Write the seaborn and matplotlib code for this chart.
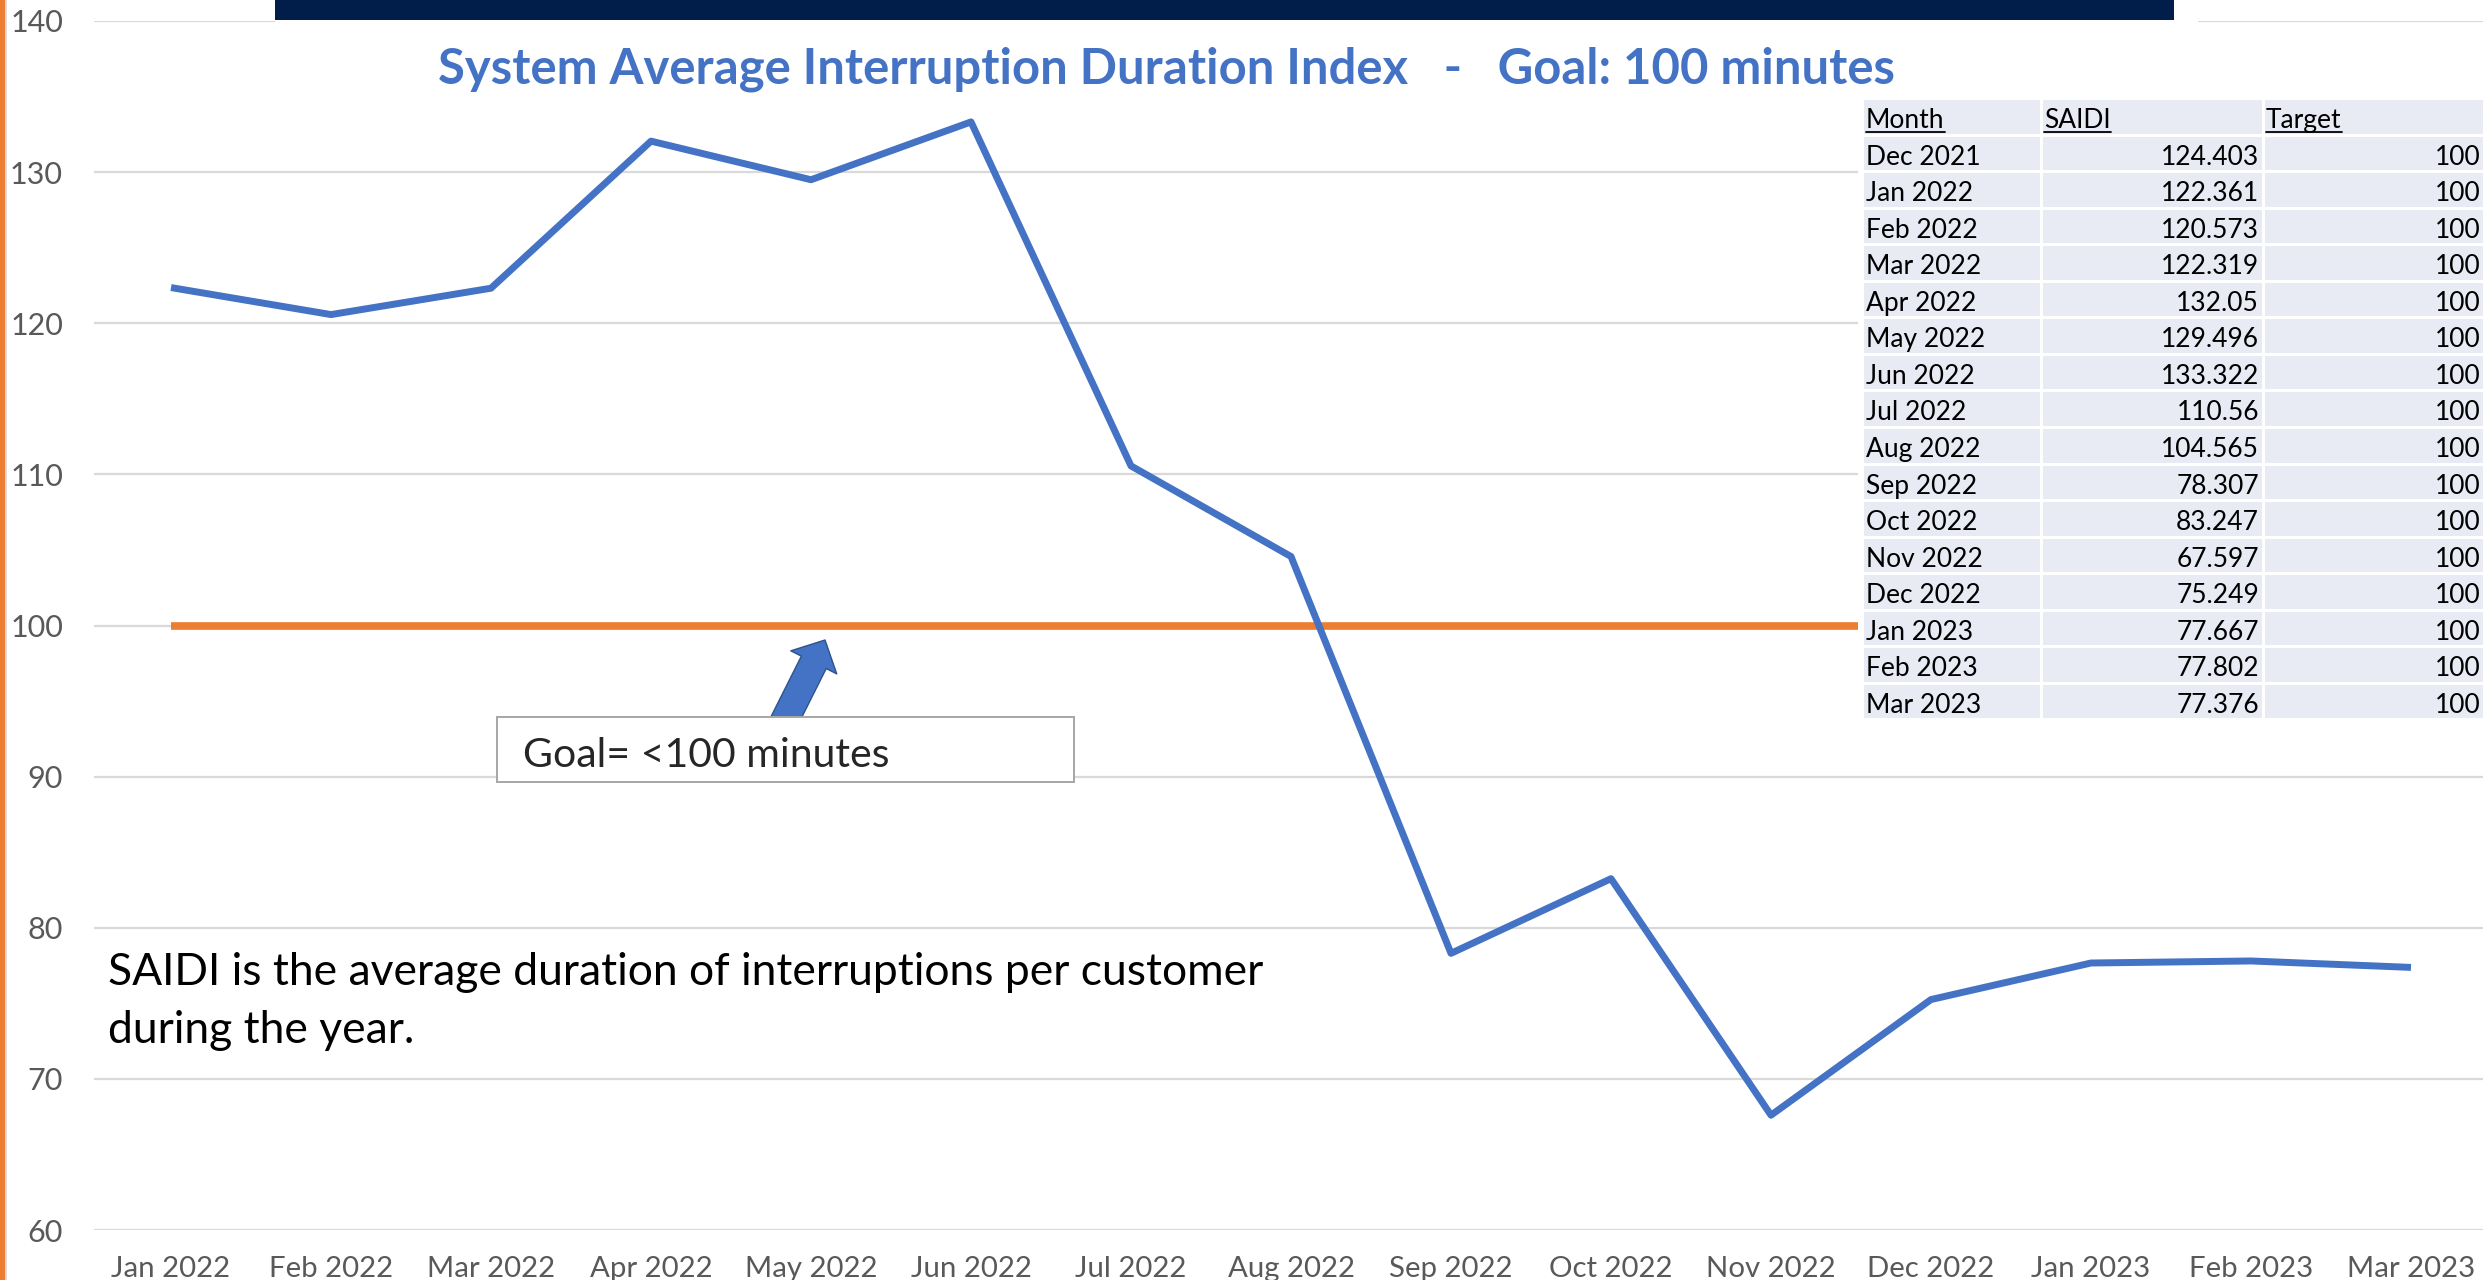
import matplotlib
matplotlib.use("Agg")
import numpy as np
import pandas as pd
import matplotlib.pyplot as plt
import matplotlib.patches as mpatches
from matplotlib.lines import Line2D
from matplotlib import font_manager
import seaborn as sns

# ---------------- data ----------------
table_months = ["Dec 2021", "Jan 2022", "Feb 2022", "Mar 2022", "Apr 2022", "May 2022",
                "Jun 2022", "Jul 2022", "Aug 2022", "Sep 2022", "Oct 2022", "Nov 2022",
                "Dec 2022", "Jan 2023", "Feb 2023", "Mar 2023"]
table_saidi = [124.403, 122.361, 120.573, 122.319, 132.05, 129.496, 133.322, 110.56,
               104.565, 78.307, 83.247, 67.597, 75.249, 77.667, 77.802, 77.376]
table_target = [100, 100, 100, 100, 100, 100, 100, 100, 100, 100, 100, 100, 100, 100, 100, 100]
table_headers = ["Month", "SAIDI", "Target"]

chart_months = table_months[1:]
chart_saidi = table_saidi[1:]
chart_target = table_target[1:]

y_ticks = [60, 70, 80, 90, 100, 110, 120, 130, 140]
title_text = "System Average Interruption Duration Index   -   Goal: 100 minutes"
goal_text = "Goal= <100 minutes"
note_lines = ["SAIDI is the average duration of interruptions per customer",
              "during the year."]

# ---------------- style ----------------
sns.set_theme(style="white")
avail = {f.name for f in font_manager.fontManager.ttflist}
FONT = "Lato" if "Lato" in avail else "DejaVu Sans"
plt.rcParams["font.family"] = [FONT, "DejaVu Sans"]

BLUE = "#4472C4"
ORANGE = "#ED7D31"
GRID = "#D9D9D9"
TICK = "#595959"
NAVY = "#011E4A"
CELL = "#E8EAF4"

W, H = 2483, 1280
fig = plt.figure(figsize=(W / 100, H / 100), dpi=100)
fig.patch.set_facecolor("white")


def fx(px):
    return px / W


def fy(py):
    return 1 - py / H


renderer = fig.canvas.get_renderer()


def fit(t, target):
    w = t.get_window_extent(renderer).width
    t.set_fontsize(t.get_fontsize() * target / w)
    return t.get_fontsize()


def fit_size(s, target, **kw):
    tmp = fig.text(0, 0, s, fontsize=20, **kw)
    size = fit(tmp, target)
    tmp.remove()
    return size


# ---------------- axes ----------------
X0, STEP = 171, 160
YB, YT = 1230, 21
xlo, xhi = -0.48, 14.5
left_px = X0 + xlo * STEP
right_px = X0 + xhi * STEP
ax = fig.add_axes([fx(left_px), fy(YB), (right_px - left_px) / W, (YB - YT) / H])
ax.set_facecolor("white")

df = pd.DataFrame({"Month": chart_months, "SAIDI": chart_saidi, "Target": chart_target})
sns.lineplot(data=df, x="Month", y="Target", ax=ax, color=ORANGE, lw=5.5, sort=False,
             zorder=2, solid_capstyle="butt")
sns.lineplot(data=df, x="Month", y="SAIDI", ax=ax, color=BLUE, lw=5, sort=False,
             zorder=3, solid_capstyle="butt", solid_joinstyle="round")

ax.set_xlim(xlo, xhi)
ax.set_ylim(60, 140)
ax.set_yticks(y_ticks)
ax.set_xticks(range(len(chart_months)))
ax.set_xticklabels(chart_months)
ax.set_xlabel("")
ax.set_ylabel("")
for s in ax.spines.values():
    s.set_visible(False)
ax.yaxis.grid(True, color=GRID, lw=1.6)
ax.xaxis.grid(False)
ax.set_axisbelow(True)

tick_size = fit_size("Jan 2022", 119)
ypad, xpad = 22.0, 18.0
ax.tick_params(axis="y", length=0, pad=ypad, labelsize=tick_size * 1.04, labelcolor=TICK)
ax.tick_params(axis="x", length=0, pad=xpad, labelsize=tick_size, labelcolor=TICK)

# calibrate label positions against the reference pixel positions
fig.canvas.draw()
yb = ax.get_yticklabels()[0].get_window_extent(renderer)
ypad += (yb.x1 - 63) * 72 / 100
xb = ax.get_xticklabels()[0].get_window_extent(renderer)
xpad += (xb.y1 - (H - 1256)) * 72 / 100
ax.tick_params(axis="y", pad=ypad)
ax.tick_params(axis="x", pad=xpad)

# goal annotation: arrow + box
arrow = mpatches.FancyArrowPatch(
    posA=(3.806, 93.1), posB=(4.0875, 99.04),
    arrowstyle=mpatches.ArrowStyle.Simple(head_length=18, head_width=37, tail_width=20),
    mutation_scale=1, fc=BLUE, ec="#2F528F", lw=1, shrinkA=0, shrinkB=0, zorder=4)
ax.add_patch(arrow)
box = mpatches.Rectangle((2.0375, 89.64), 3.6065, 4.31, fc="white", ec="#A6A6A6",
                         lw=1.4, zorder=5)
ax.add_patch(box)
gt = ax.text(2.2, 90.64, goal_text, ha="left", va="baseline", color="#262626",
             fontsize=24, zorder=6)
fit(gt, 367)

# explanatory note
n1 = ax.text(-0.394, 76.2, note_lines[0], ha="left", va="baseline", color="black",
             fontsize=30, zorder=6)
nsize = fit(n1, 1154)
ax.text(-0.394, 72.4, note_lines[1], ha="left", va="baseline", color="black",
        fontsize=nsize, zorder=6)

# ---------------- figure decorations ----------------
fig.add_artist(mpatches.Rectangle((0, 0), fx(5), 1, transform=fig.transFigure,
                                  fc=ORANGE, ec="none", zorder=10))
fig.add_artist(mpatches.Rectangle((fx(5), 0), fx(2), 1, transform=fig.transFigure,
                                  fc="#DADADA", ec="none", zorder=10))
# title area (white strip hiding top grid line) and navy banner
fig.add_artist(mpatches.Rectangle((fx(275), fy(25)), fx(2198 - 275), 25 / H,
                                  transform=fig.transFigure, fc="white", ec="none", zorder=9))
fig.add_artist(mpatches.Rectangle((fx(275), fy(19.5)), fx(2174 - 275), 19.5 / H,
                                  transform=fig.transFigure, fc=NAVY, ec="none", zorder=10))

tt = fig.text(fx(1167), fy(84), title_text, ha="center", va="baseline", color=BLUE,
              fontweight="bold", fontsize=34, zorder=11)
fit(tt, 1459)

# ---------------- data table ----------------
T_TOP, R_STEP, R_H = 100, 36.56, 33.5
col_x = [(1864, 2040), (2043, 2262), (2265, 2495)]
fig.add_artist(mpatches.Rectangle((fx(1858), fy(724)), fx(W - 1858), (724 - 96) / H,
                                  transform=fig.transFigure, fc="white", ec="none", zorder=12))
n_rows = len(table_months) + 1
for i in range(n_rows):
    top = T_TOP + i * R_STEP
    for (x0, x1) in col_x:
        fig.add_artist(mpatches.Rectangle((fx(x0), fy(top + R_H)), fx(x1 - x0), R_H / H,
                                          transform=fig.transFigure, fc=CELL, ec="none",
                                          zorder=13))

tsize = fit_size("Mar 2023", 115)
header_texts = []
hx = [1866, 2044, 2266]
for j, h in enumerate(table_headers):
    t = fig.text(fx(hx[j]), fy(T_TOP + 28), h, ha="left", va="baseline", color="black",
                 fontsize=tsize, zorder=14)
    header_texts.append(t)
for i, (m, s, tg) in enumerate(zip(table_months, table_saidi, table_target)):
    base = T_TOP + (i + 1) * R_STEP + 28
    fig.text(fx(1866), fy(base), m, ha="left", va="baseline", color="black",
             fontsize=tsize, zorder=14)
    fig.text(fx(2259), fy(base), f"{s:g}", ha="right", va="baseline", color="black",
             fontsize=tsize, zorder=14)
    fig.text(fx(2481), fy(base), str(tg), ha="right", va="baseline", color="black",
             fontsize=tsize, zorder=14)

# underline headers
fig.canvas.draw()
for t in header_texts:
    bb = t.get_window_extent(renderer)
    uy = fy(T_TOP + 32)
    fig.add_artist(Line2D([bb.x0 / W, bb.x1 / W], [uy, uy], transform=fig.transFigure,
                          color="black", lw=1.3, zorder=15))

fig.savefig("out.png", dpi=100, facecolor="white")
